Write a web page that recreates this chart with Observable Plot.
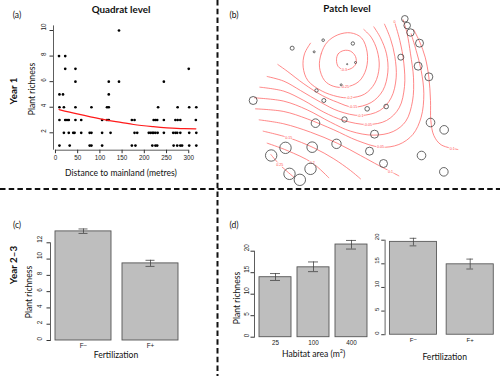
<!DOCTYPE html>
<html><head><meta charset="utf-8">
<script src="https://cdn.jsdelivr.net/npm/d3@7"></script>
<script src="https://cdn.jsdelivr.net/npm/@observablehq/plot@0.6"></script>
<style>
body{margin:0;background:#fff;}
#fig{position:relative;width:500px;height:376px;overflow:hidden;background:#fff;font-family:Lato,"Liberation Sans",sans-serif;}
.panel{position:absolute;}
.panel svg{overflow:visible;display:block;}
.lbl{position:absolute;white-space:nowrap;line-height:1;color:#111;}
</style></head><body><div id="fig"></div>
<script>
// ---------- DATA ----------
// (a) quadrat level: richness value and the distances (m) of the points at that value
const quadratRows = [
  [10, [143]],
  [8, [8, 22]],
  [7, [22, 45, 300]],
  [6, [45, 120, 143, 244]],
  [5, [9, 17, 120]],
  [4, [9, 19, 45, 81, 116, 120, 231, 275, 301, 317]],
  [3, [9, 22, 26, 30, 45, 58, 105, 116, 120, 172, 178, 221, 225, 229, 244, 270, 275, 281, 316]],
  [2, [19, 30, 40, 43, 58, 77, 81, 105, 124, 178, 184, 210, 214, 218, 221, 225, 230, 244, 265, 270, 274, 281, 301, 317]],
  [1, [9, 32, 77, 81, 105, 172, 180, 218, 225, 229, 266, 274, 281, 285, 301, 317]]
];
const fitDistance = [8, 49, 101, 150, 176, 220, 251, 290, 316];
const fitRichness = [3.82, 3.48, 3.09, 2.8, 2.65, 2.48, 2.39, 2.32, 2.31];
const distanceTicks = [0, 50, 100, 150, 200, 250, 300];
const richnessTicksA = [2, 4, 6, 8, 10];

// (b) patch level: patch positions (map units) and circle radii
const patchX = [463,470,480,507,125,218,307,191,315,290,451,503,535,272,198,8,220,350,407,282,195,540,581,372,258,105,185,357,62,513,399,180,117,148,580];
const patchY = [55,75,96,128,143,119,129,154,186,191,170,197,229,253,270,300,300,325,318,357,368,366,388,401,430,442,440,452,465,465,489,505,520,538,514];
const patchR = [3.3,3.3,3.7,4,2,1.3,1.7,1,1,0.6,3,4,4,1,1.7,4,2,2.3,2.3,2.7,4.3,4.3,4.3,4,4.7,5.7,5.3,4,5.7,4.3,4,5.7,5.7,5.7,4.3];
// contour lines (map units)
const closedContours = [
  ["-0.3", [[258,178],[263,160],[280,150],[300,152],[315,168],[316,190],[302,204],[280,208],[263,198]]],
  ["-0.25", [[207,200],[212,160],[230,125],[262,103],[300,97],[333,112],[350,155],[347,205],[325,243],[285,260],[248,257],[222,240]]]
];
const openContours = [
  ["-0.2", [[180,128],[162,160],[158,200],[172,240],[215,272],[260,288],[297,292],[342,281],[373,248],[386,200],[380,150],[362,110],[340,87]]],
  ["-0.15", [[82,192],[110,212],[160,250],[215,285],[260,305],[308,320],[362,306],[397,270],[412,215],[408,160],[390,112],[370,79]]],
  ["-0.1", [[50,228],[100,242],[150,270],[210,305],[265,332],[330,345],[388,330],[422,292],[437,232],[433,168],[420,115],[402,71]]],
  ["-0.05", [[28,260],[100,272],[160,300],[220,335],[280,360],[352,372],[408,360],[446,322],[462,258],[460,188],[448,120],[432,64]]],
  ["0", [[12,292],[100,302],[170,328],[240,365],[300,392],[370,404],[428,393],[466,362],[486,302],[489,232],[480,160],[470,100],[458,58]]],
  ["0.05", [[15,325],[100,333],[170,355],[250,388],[320,420],[390,440],[445,432],[487,402],[512,350],[520,280],[512,210],[497,150],[482,100]]],
  ["0.1a", [[26,358],[100,370],[180,395],[260,428],[330,465],[385,495],[420,513],[445,526]]],
  ["0.1b", [[490,88],[508,125],[524,170],[535,230],[540,300],[541,360],[550,405],[572,433],[622,447]]],
  ["0.15", [[38,392],[115,412],[190,442],[250,475],[300,510],[330,535]]],
  ["0.2", [[50,428],[110,450],[185,487],[235,532]]],
  ["0.25", [[61,462],[88,493],[130,530]]]
];
const contourLabelText = ["-0.3","-0.25","-0.2","-0.15","-0.1","-0.05","0","0.05","0.1","0.1","0.15","0.2","0.25"];
const contourLabelX = [280,283,297,308,330,352,432,390,420,605,115,185,88];
const contourLabelY = [208,259,292,320,345,372,64,440,513,445,412,487,493];

// (c) year 2-3, quadrat level
const fertCats = ["F\u2212", "F+"];
const yr23Mean = [13.4, 9.47];
const yr23Lo = [13.15, 9.1];
const yr23Hi = [13.7, 9.85];
const ticksC = [0, 2, 4, 6, 8, 10, 12];
// (d) year 2-3, patch level
const areaCats = ["25", "100", "400"];
const areaMean = [13.95, 16.25, 21.55];
const areaLo = [13.2, 15.25, 20.5];
const areaHi = [14.8, 17.5, 22.5];
const fertMean2 = [19.65, 14.9];
const fertLo2 = [18.8, 13.9];
const fertHi2 = [20.4, 16.0];
const ticksD = [0, 5, 10, 15, 20];

// ---------- LAYOUT HELPERS ----------
const fig = document.getElementById("fig");
function place(node, left, top) {
  const d = document.createElement("div");
  d.className = "panel";
  d.style.left = left + "px";
  d.style.top = top + "px";
  d.appendChild(node);
  fig.appendChild(d);
}
function label(text, x, y, opt = {}) {
  const d = document.createElement("div");
  d.className = "lbl";
  d.innerHTML = text;
  d.style.left = x + "px";
  d.style.top = y + "px";
  d.style.fontSize = (opt.size || 8.6) + "px";
  d.style.fontWeight = opt.bold ? "700" : "400";
  d.style.transform = "translate(-50%,-50%)" + (opt.rot ? " rotate(-90deg)" : "");
  fig.appendChild(d);
}
const baseStyle = {fontFamily: "'Liberation Sans', Arial, sans-serif", fontSize: "6.3px", color: "#222", background: "transparent", overflow: "visible"};

// ---------- PANEL (a) ----------
const quadratPts = quadratRows.flatMap(([r, ds]) => ds.map(d => ({d, r})));
const fitPts = fitDistance.map((d, i) => ({d, r: fitRichness[i]}));
const plotA = Plot.plot({
  width: 218, height: 190,
  marginLeft: 53, marginRight: 15.8, marginTop: 25.4, marginBottom: 40.3,
  x: {domain: [-4.4, 331.4]},
  y: {domain: [0.64, 10.36]},
  style: baseStyle,
  marks: [
    Plot.ruleX([-4.4], {y1: 0.64, y2: 10.36, stroke: "#333", strokeWidth: 0.8}),
    Plot.ruleY([0.64], {x1: 0, x2: 300, stroke: "#333", strokeWidth: 0.8}),
    Plot.axisX({ticks: distanceTicks, tickSize: 3.5, tickPadding: 1.5, label: null, stroke: "#333"}),
    Plot.axisY({ticks: richnessTicksA, tickSize: 3.5, tickFormat: () => "", label: null, stroke: "#333"}),
    Plot.text(richnessTicksA, {y: d => d, text: d => String(d), frameAnchor: "left", rotate: -90, dx: -10, fill: "#222"}),
    Plot.dot(quadratPts, {x: "d", y: "r", r: 1.35, fill: "black", stroke: "none"}),
    Plot.line(fitPts, {x: "d", y: "r", stroke: "#ff1a1a", strokeWidth: 1.2, curve: "monotone-x"})
  ]
});
place(plotA, 0, 0);

// ---------- PANEL (b) ----------
const patches = patchX.map((x, i) => ({x, y: patchY[i], r: patchR[i]}));
const openRows = openContours.flatMap(([id, pts]) => pts.map(([x, y]) => ({id, x, y})));
const closedRows = closedContours.flatMap(([id, pts]) => pts.map(([x, y]) => ({id, x, y})));
const cLabels = contourLabelText.map((t, i) => ({t, x: contourLabelX[i], y: contourLabelY[i]}));
const plotB = Plot.plot({
  width: 282, height: 190,
  marginLeft: 32, marginRight: 0, marginTop: 0, marginBottom: 0,
  x: {domain: [0, 750], axis: null},
  y: {domain: [0, 570], axis: null, reverse: true},
  r: {type: "linear", domain: [0, 10], range: [0, 10]},
  style: baseStyle,
  marks: [
    Plot.line(openRows, {x: "x", y: "y", z: "id", stroke: "#ff6a6a", strokeWidth: 0.8, curve: "catmull-rom"}),
    Plot.line(closedRows, {x: "x", y: "y", z: "id", stroke: "#ff6a6a", strokeWidth: 0.8, curve: "catmull-rom-closed"}),
    Plot.text(cLabels, {x: "x", y: "y", text: "t", fill: "#ff4a4a", fontSize: 3.6, stroke: "white", strokeWidth: 1.6}),
    Plot.dot(patches, {x: "x", y: "y", r: "r", stroke: "#4a4a4a", strokeWidth: 0.85, fill: "none"})
  ]
});
place(plotB, 218, 0);

// ---------- BAR PANELS ----------
function barPanel(o) {
  const rows = o.cats.map((c, i) => ({c, m: o.mean[i], lo: o.lo[i], hi: o.hi[i]}));
  return Plot.plot({
    width: o.width, height: o.height,
    marginLeft: o.ml, marginRight: o.mr, marginTop: o.mt, marginBottom: o.mb,
    x: {domain: o.cats, paddingInner: o.pin, paddingOuter: o.pout},
    y: {domain: [0, o.ymax]},
    style: baseStyle,
    marks: [
      Plot.barY(rows, {x: "c", y: "m", fill: "#bebebe", stroke: "#555", strokeWidth: 0.9, inset: 0}),
      Plot.ruleX(rows, {x: "c", y1: "lo", y2: "hi", stroke: "#444", strokeWidth: 0.8}),
      Plot.tickY(rows, {x: "c", y: "lo", inset: o.capInset, stroke: "#444", strokeWidth: 0.8}),
      Plot.tickY(rows, {x: "c", y: "hi", inset: o.capInset, stroke: "#444", strokeWidth: 0.8}),
      Plot.frame({anchor: "left", stroke: "#333", strokeWidth: 0.8}),
      Plot.axisY({ticks: o.ticks, tickSize: 3.5, tickFormat: () => "", label: null, stroke: "#333"}),
      Plot.text(o.ticks, {y: d => d, text: d => String(d), frameAnchor: "left", rotate: -90, dx: o.labelDx, fill: "#222"}),
      Plot.axisX({tickSize: 0, tickPadding: 3, label: null})
    ]
  });
}
place(barPanel({cats: fertCats, mean: yr23Mean, lo: yr23Lo, hi: yr23Hi, ticks: ticksC,
  width: 218, height: 186, ml: 50, mr: 34.7, mt: 52.3, mb: 36, pin: 0.168, pout: 0.0744,
  ymax: 12, labelDx: -10.7, capInset: 23.5}), 0, 190);
place(barPanel({cats: areaCats, mean: areaMean, lo: areaLo, hi: areaHi, ticks: ticksD,
  width: 157, height: 186, ml: 36, mr: 2.4, mt: 60.7, mb: 39.3, pin: 0.157, pout: 0.139,
  ymax: 20, labelDx: -7.3, capInset: 11}), 218, 190);
place(barPanel({cats: fertCats, mean: fertMean2, lo: fertLo2, hi: fertHi2, ticks: ticksD,
  width: 130, height: 186, ml: 10, mr: 1.4, mt: 51.7, mb: 36, pin: 0.167, pout: 0.072,
  ymax: 20, labelDx: -8.3, capInset: 21}), 375, 190);

// ---------- SEPARATORS ----------
const sep = d3.create("svg").attr("width", 500).attr("height", 376)
  .style("position", "absolute").style("left", "0px").style("top", "0px").style("pointer-events", "none");
sep.append("line").attr("x1", 0).attr("x2", 500).attr("y1", 189).attr("y2", 189)
  .attr("stroke", "#111").attr("stroke-width", 2).attr("stroke-dasharray", "5.5,3.2");
sep.append("line").attr("x1", 217.5).attr("x2", 217.5).attr("y1", 0).attr("y2", 376)
  .attr("stroke", "#111").attr("stroke-width", 2).attr("stroke-dasharray", "5.5,3.2");
fig.appendChild(sep.node());

// ---------- TEXT ----------
label("(a)", 17, 15, {size: 8.5});
label("(b)", 234, 15, {size: 8.5});
label("(c)", 17, 225, {size: 8.5});
label("(d)", 234, 225, {size: 8.5});
label("Quadrat level", 121, 9.5, {size: 9.8, bold: true});
label("Patch level", 347, 8.8, {size: 9.8, bold: true});
label("Year 1", 14, 91, {size: 9.8, bold: true, rot: true});
label("Year 2\u20133", 14, 265, {size: 9.8, bold: true, rot: true});
label("Plant richness", 32, 89, {size: 8.6, rot: true});
label("Plant richness", 29.3, 292, {size: 8.6, rot: true});
label("Plant richness", 237.3, 298, {size: 8.6, rot: true});
label("Distance to mainland (metres)", 121, 173, {size: 8.6});
label("Fertilization", 116, 355, {size: 8.6});
label("Fertilization", 444.7, 356.7, {size: 8.6});
label("Habitat area (m<sup style='font-size:5.5px;vertical-align:3.5px'>2</sup>)", 313.7, 354, {size: 8.6});
</script>
</body></html>
